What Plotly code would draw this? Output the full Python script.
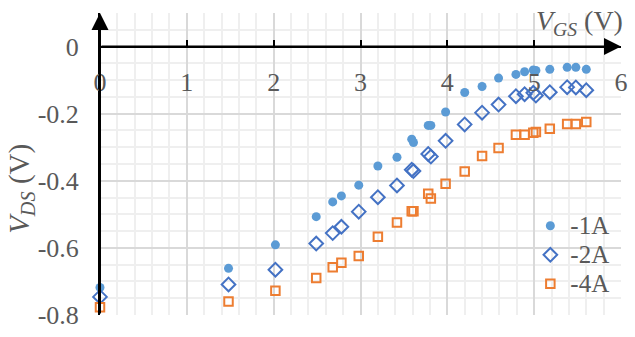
import plotly.graph_objects as go

# Gate-source voltage sweep (V), shared by all three drain currents
vgs = [0, 1.48, 2.02, 2.49, 2.68, 2.78, 2.98, 3.20, 3.42, 3.59, 3.61, 3.78, 3.81,
       3.98, 4.20, 4.40, 4.59, 4.79, 4.89, 4.99, 5.02, 5.18, 5.38, 5.48, 5.60]

# Drain-source voltage (V) for each drain current
vds_1a = [-0.718, -0.661, -0.591, -0.507, -0.463, -0.445, -0.413, -0.356, -0.330,
          -0.276, -0.286, -0.235, -0.235, -0.195, -0.137, -0.119, -0.094, -0.083,
          -0.075, -0.070, -0.071, -0.068, -0.062, -0.062, -0.068]
vds_2a = [-0.746, -0.709, -0.665, -0.587, -0.556, -0.537, -0.492, -0.449, -0.414,
          -0.367, -0.371, -0.320, -0.328, -0.281, -0.232, -0.197, -0.173, -0.148,
          -0.142, -0.138, -0.146, -0.136, -0.121, -0.122, -0.130]
vds_4a = [-0.777, -0.760, -0.728, -0.690, -0.658, -0.644, -0.624, -0.567, -0.524,
          -0.491, -0.491, -0.439, -0.453, -0.409, -0.372, -0.326, -0.302, -0.263,
          -0.263, -0.257, -0.255, -0.245, -0.231, -0.231, -0.225]

series_names = ["-1A", "-2A", "-4A"]

x_ticks = [0, 1, 2, 3, 4, 5, 6]
y_ticks = [0, -0.2, -0.4, -0.6, -0.8]
y_tick_text = ["0", "-0.2", "-0.4", "-0.6", "-0.8"]

FONT = "Liberation Serif, Times New Roman, serif"
GREY = "#595959"


def legend_label(name):
    # larger glyphs than the legend's nominal font keeps the rows compact
    return f'<span style="font-size:25px">{name}</span>'


fig = go.Figure()
fig.add_trace(go.Scatter(
    x=vgs, y=vds_1a, name=legend_label(series_names[0]), mode="markers", cliponaxis=False,
    marker=dict(symbol="circle", size=9, color="#5B9BD5", line=dict(width=0)),
))
fig.add_trace(go.Scatter(
    x=vgs, y=vds_2a, name=legend_label(series_names[1]), mode="markers", cliponaxis=False,
    marker=dict(symbol="diamond-open", size=10.5, color="#4472C4", line=dict(width=2)),
))
fig.add_trace(go.Scatter(
    x=vgs, y=vds_4a, name=legend_label(series_names[2]), mode="markers", cliponaxis=False,
    marker=dict(symbol="square-open", size=8.5, color="#ED7D31", line=dict(width=2)),
))

y_min, y_max = -0.8, 0.1
x_min, x_max = 0, 6

# Axis arrows: vertical axis pointing up, horizontal axis pointing right
arrow_style = dict(showarrow=True, arrowhead=2, arrowwidth=2, arrowsize=1.7,
                   arrowcolor="black", text="", standoff=0, startstandoff=0)
annotations = [
    dict(x=x_min, y=y_max, ax=x_min, ay=y_min, xref="x", yref="y",
         axref="x", ayref="y", **arrow_style),
    dict(x=x_max, y=0, ax=x_min, ay=0, xref="x", yref="y",
         axref="x", ayref="y", **arrow_style),
    dict(text="<i>V</i><sub><i>GS</i></sub> (V)", xref="paper", yref="paper",
         x=1.008, y=0.97, xanchor="right", yanchor="middle", showarrow=False,
         font=dict(family=FONT, size=28, color=GREY)),
    dict(text="<i>V</i><sub><i>DS</i></sub> (V)", xref="paper", yref="paper",
         x=-0.152, y=0.417, xanchor="center", yanchor="middle", showarrow=False,
         textangle=-90, font=dict(family=FONT, size=29, color=GREY)),
]

fig.update_layout(
    width=635, height=337,
    margin=dict(l=100, r=7, t=13, b=17),
    paper_bgcolor="white", plot_bgcolor="white",
    font=dict(family=FONT, size=26, color=GREY),
    showlegend=True,
    legend=dict(x=0.826, y=0.36, xanchor="left", yanchor="top",
                bgcolor="rgba(0,0,0,0)", font=dict(family=FONT, size=20, color=GREY),
                itemwidth=30, tracegroupgap=0),
    annotations=annotations,
    xaxis=dict(
        range=[x_min, x_max], tickvals=x_ticks, ticktext=[str(v) for v in x_ticks],
        anchor="free", position=(0 - y_min) / (y_max - y_min), side="bottom",
        showline=True, linecolor="black", linewidth=2,
        ticks="inside", ticklen=6, tickwidth=2, tickcolor="black",
        ticklabelstandoff=12,
        tickfont=dict(family=FONT, size=26, color=GREY),
        showgrid=True, gridcolor="#D9D9D9", gridwidth=2,
        minor=dict(dtick=0.2, showgrid=True, gridcolor="#EFEFEF", gridwidth=2),
        zeroline=False,
    ),
    yaxis=dict(
        range=[y_min, y_max], tickvals=y_ticks, ticktext=y_tick_text,
        showline=True, linecolor="black", linewidth=2, ticks="",
        ticklabelstandoff=14,
        tickfont=dict(family=FONT, size=26, color=GREY),
        showgrid=True, gridcolor="#D9D9D9", gridwidth=2,
        minor=dict(dtick=0.05, showgrid=True, gridcolor="#EFEFEF", gridwidth=2),
        zeroline=False,
    ),
)

fig.write_html("out.html")
